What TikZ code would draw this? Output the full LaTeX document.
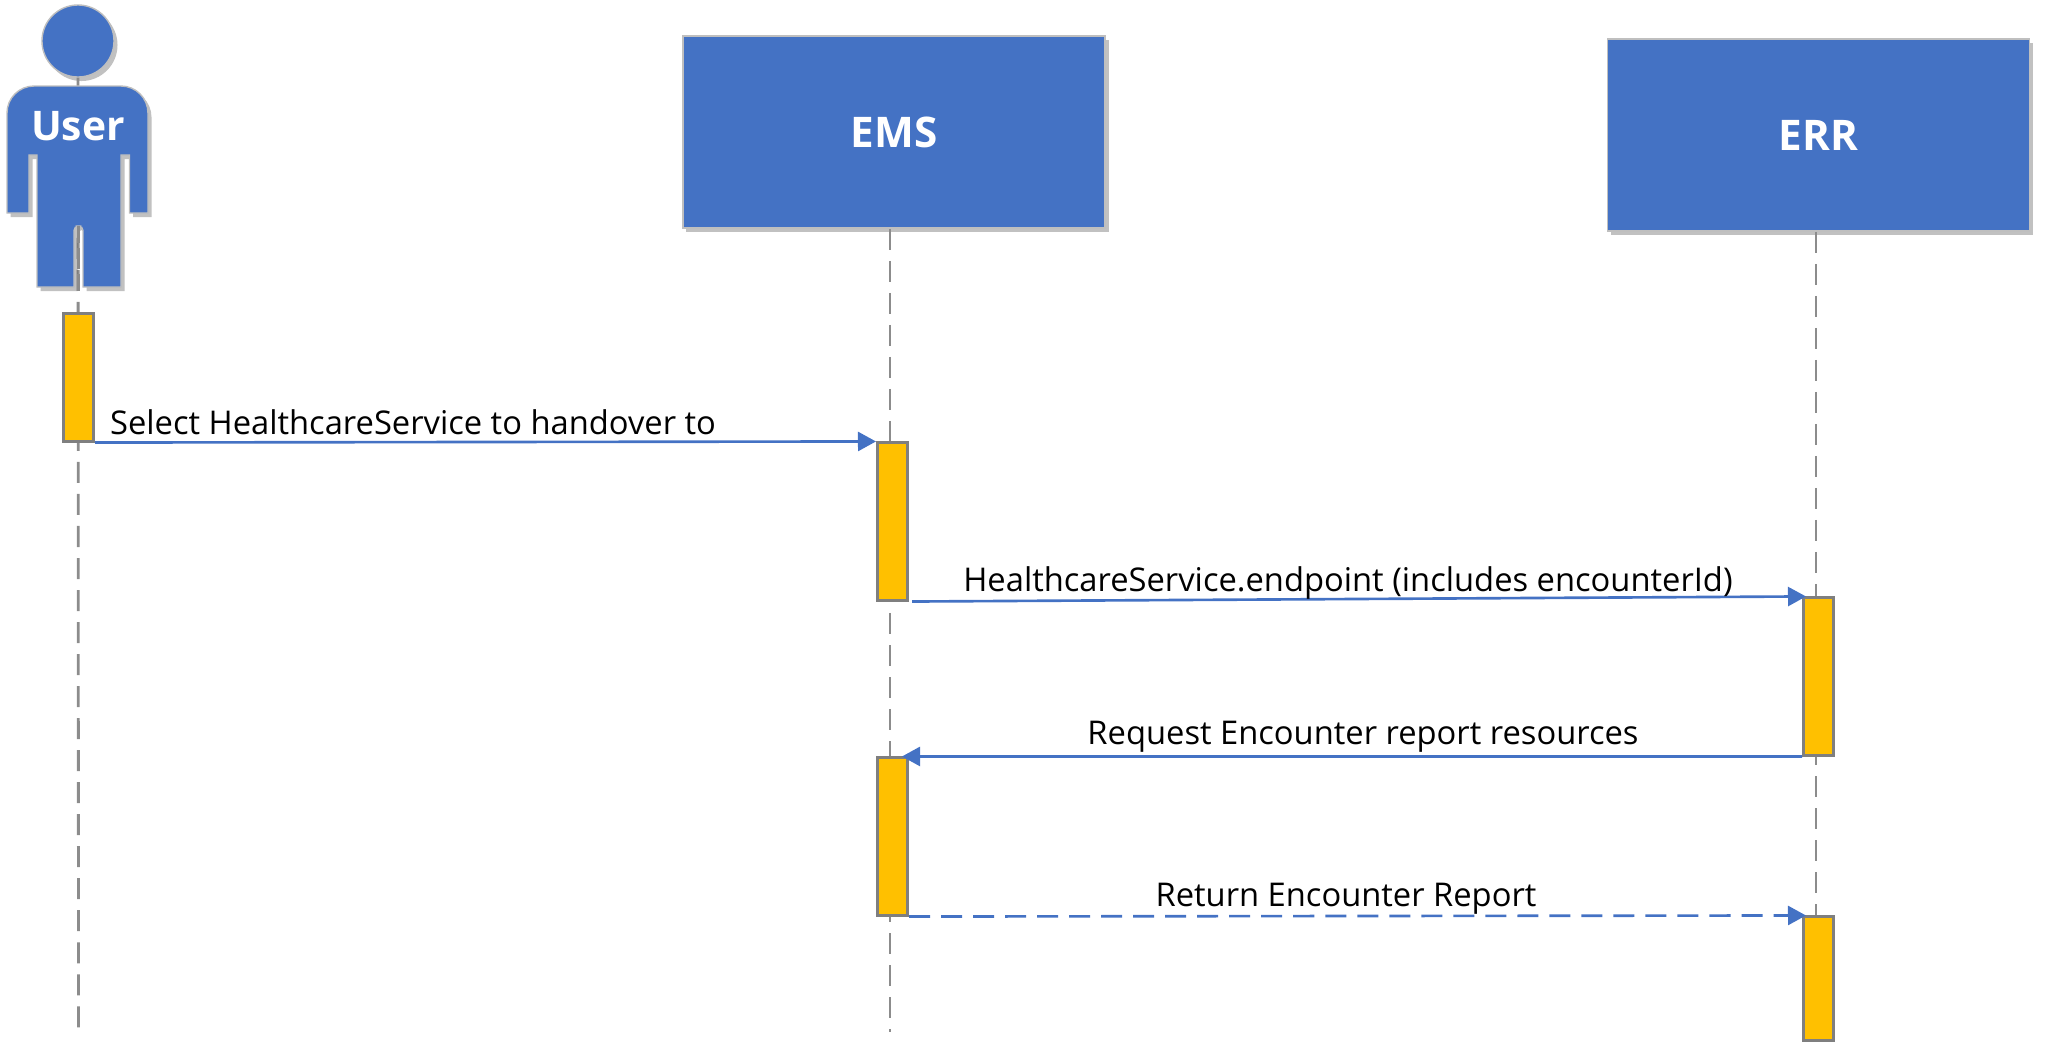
\documentclass[tikz,border=0pt]{standalone}
\usepackage{fontspec}
\setmainfont{Open Sans}
\usetikzlibrary{arrows.meta,shadows}
\definecolor{seqblue}{RGB}{68,114,196}
\definecolor{seqamber}{RGB}{255,192,0}
\definecolor{seqgray}{RGB}{127,127,127}
\tikzset{
  softshadow/.style={drop shadow={shadow xshift=0.035cm,shadow yshift=-0.04cm,opacity=0.35,fill=black!70}},
  actorbox/.style={draw=black!25,line width=0.4pt,fill=seqblue,softshadow,text=white,font=\fontsize{12}{14}\selectfont\bfseries,inner sep=0pt,minimum width=4.22cm,minimum height=1.92cm},
  activebar/.style={draw=seqgray,line width=0.85pt,fill=seqamber,inner sep=0pt,minimum width=0.3cm},
  lifeline/.style={seqgray!90,line width=0.8pt,dash pattern=on 0.21cm off 0.11cm},
  message/.style={seqblue,line width=0.75pt,-{Triangle[length=0.18cm,width=0.19cm]}},
  msgtext/.style={font=\fontsize{9.3}{12}\selectfont,inner sep=0pt}
}
\begin{document}
\begin{tikzpicture}[x=0.01cm,y=-0.01cm]
  \useasboundingbox (0,0) rectangle (2047,1042);
  \coordinate (userend) at (78.5,1032);
  \coordinate (emsend) at (890,1032);
  \coordinate (errend) at (1816,1032);
  \node[actorbox] (emsbox) at (894,132) {EMS};
  \node[actorbox] (errbox) at (1818.5,135) {ERR};
  \node[circle,draw=black!25,line width=0.4pt,fill=seqblue,softshadow,minimum size=0.72cm,inner sep=0pt] (userhead) at (78,41) {};
  \draw[lifeline] (userhead) -- (userend);
  \draw[draw=black!25,line width=0.4pt,fill=seqblue,softshadow] (7,213) [rounded corners=0.27cm] -- (7,86) -- (148,86) [sharp corners] -- (148,213) -- (129.5,213) -- (129.5,155) -- (121,155) -- (121,287) -- (83,287) [rounded corners=0.045cm] -- (83,226) -- (74,226) [sharp corners] -- (74,287) -- (37,287) -- (37,155) -- (29,155) -- (29,213) -- cycle;
  \draw[seqgray!90,line width=0.8pt,dash pattern=on 0.17cm off 0.05cm on 0.21cm off 0.05cm] (78.5,226) -- (userend |- 0,295);
  \node[text=white,font=\fontsize{11.6}{14}\selectfont\bfseries] (userlabel) at (78,126) {User};
  \draw[lifeline] (emsbox.south -| emsend) -- (emsend);
  \draw[lifeline] (errbox.south -| errend) -- (errend);
  \node[activebar,minimum height=1.27cm] (userbar) at (78.5,377.5) {};
  \node[activebar,minimum height=1.57cm] (emsbarA) at (892.5,521.5) {};
  \node[activebar,minimum height=1.57cm] (errbarA) at (1818.5,676.5) {};
  \node[activebar,minimum height=1.57cm] (emsbarB) at (892.5,836.5) {};
  \node[activebar,minimum height=1.23cm] (errbarB) at (1818.5,978.5) {};
  \draw[message] (userbar.south east) -- (emsbarA.north west);
  \draw[message,shorten <=0.03cm,shorten >=-0.04cm] (emsbarA.south east) -- (errbarA.north west);
  \draw[message,shorten >=-0.07cm] (errbarA.south west) -- (emsbarB.north east);
  \draw[message,dash pattern=on 0.21cm off 0.11cm,shorten >=-0.04cm] (emsbarB.south east) -- (errbarB.north west);
  \node[msgtext] (selectmsg) at (413,422) {Select HealthcareService to handover to};
  \node[msgtext] (endpointmsg) at (1348,583) {HealthcareService.endpoint (includes encounterId)};
  \node[msgtext] (requestmsg) at (1363,737) {Request Encounter report resources};
  \node[msgtext] (returnmsg) at (1346,899) {Return Encounter Report};
\end{tikzpicture}
\end{document}
